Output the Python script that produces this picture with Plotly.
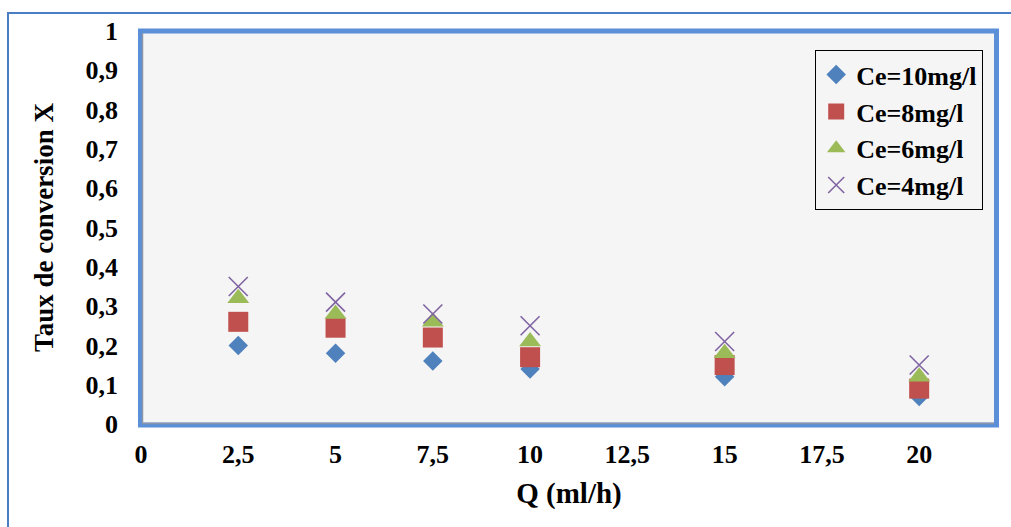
import plotly.graph_objects as go

# Data
q_values = [2.5, 5, 7.5, 10, 15, 20]
x_ce10 = [0.20, 0.18, 0.16, 0.14, 0.12, 0.07]
x_ce8 = [0.26, 0.245, 0.22, 0.17, 0.15, 0.09]
x_ce6 = [0.32, 0.28, 0.26, 0.21, 0.18, 0.12]
x_ce4 = [0.35, 0.31, 0.28, 0.25, 0.21, 0.15]
series_names = ["Ce=10mg/l", "Ce=8mg/l", "Ce=6mg/l", "Ce=4mg/l"]

FONT = "Liberation Serif, Times New Roman, serif"

fig = go.Figure()
fig.add_trace(go.Scatter(x=q_values, y=x_ce10, mode="markers", name=series_names[0],
                         marker=dict(symbol="diamond", size=15, color="#4F81BD")))
fig.add_trace(go.Scatter(x=q_values, y=x_ce8, mode="markers", name=series_names[1],
                         marker=dict(symbol="square", size=20, color="#C0504D")))
fig.add_trace(go.Scatter(x=q_values, y=x_ce6, mode="markers", name=series_names[2],
                         marker=dict(symbol="triangle-up", size=19, color="#9BBB59")))
fig.add_trace(go.Scatter(x=q_values, y=x_ce4, mode="markers", name=series_names[3],
                         marker=dict(symbol="x-thin", size=19, color="#8064A2",
                                     line=dict(width=1.6, color="#8064A2"))))

L, R, T, B = 141, 14, 31, 103
W, H = 1011, 527
pw = W - L - R
ph = H - T - B

def px_x(p):
    return (p - L) / pw

def px_y(p):
    return (H - B - p) / ph

fig.update_layout(
    width=W, height=H,
    margin=dict(l=L, r=R, t=T, b=B),
    paper_bgcolor="white",
    plot_bgcolor="#F5F5F5",
    separators=", ",
    font=dict(family=FONT, color="black", size=26, weight="bold"),
    showlegend=True,
    legend=dict(
        x=px_x(815), y=px_y(50), xanchor="left", yanchor="top",
        bgcolor="#F5F5F5", bordercolor="black", borderwidth=1.2,
        font=dict(family=FONT, size=26, color="black", weight="bold"),
        itemwidth=30, tracegroupgap=0,
    ),
    xaxis=dict(
        range=[0, 22], dtick=2.5, tick0=0,
        showgrid=False, zeroline=False, showline=False,
        ticks="", ticklabelstandoff=12,
        tickfont=dict(family=FONT, size=26, weight="bold"),
        title=dict(text="Q (ml/h)", font=dict(family=FONT, size=29, weight="bold"), standoff=14),
    ),
    yaxis=dict(
        range=[0, 1], dtick=0.1, tick0=0,
        showgrid=False, zeroline=False, showline=False,
        ticks="", ticklabelstandoff=22,
        tickfont=dict(family=FONT, size=26, weight="bold"),
        title=dict(text="Taux de conversion X", font=dict(family=FONT, size=27, weight="bold"), standoff=24),
    ),
    shapes=[
        # outer chart border
        dict(type="rect", xref="paper", yref="paper",
             x0=px_x(8), x1=px_x(1030), y0=px_y(560), y1=px_y(13),
             line=dict(color="#4A7EC4", width=2), fillcolor="rgba(0,0,0,0)", layer="below"),
        # plot area border
        dict(type="rect", xref="paper", yref="paper",
             x0=px_x(140.5), x1=px_x(996.5), y0=px_y(425), y1=px_y(31),
             line=dict(color="#5B8FD8", width=5), fillcolor="rgba(0,0,0,0)"),
        dict(type="line", xref="paper", yref="paper",
             x0=px_x(142.5), x1=px_x(994), y0=px_y(423.5), y1=px_y(423.5),
             line=dict(color="#8A96A8", width=1.5)),
        dict(type="line", xref="paper", yref="paper",
             x0=px_x(142.5), x1=px_x(142.5), y0=px_y(423.5), y1=px_y(33),
             line=dict(color="#8A96A8", width=1.5)),
    ],
)

fig.write_html("out.html", config={"displayModeBar": False},
               post_script="document.body.style.margin='0';")
